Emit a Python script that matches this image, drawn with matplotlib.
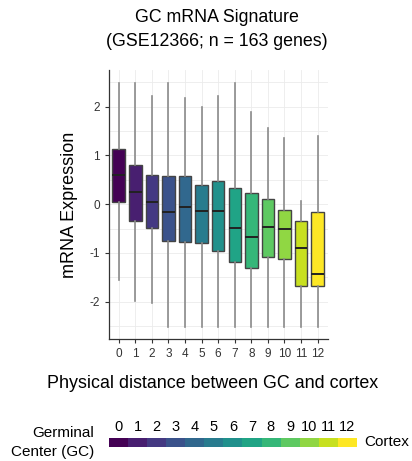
import numpy as np
import matplotlib.pyplot as plt
from matplotlib import cm
from matplotlib.colors import ListedColormap

plt.rcParams['font.family'] = ['Liberation Sans', 'DejaVu Sans']
plt.rcParams['axes.unicode_minus'] = False

# distance groups 0..12
groups = list(range(13))
medians = [0.60, 0.25, 0.04, -0.16, -0.06, -0.13, -0.14, -0.49, -0.68, -0.47, -0.51, -0.89, -1.44]
q1 = [0.05, -0.34, -0.48, -0.75, -0.77, -0.80, -0.95, -1.18, -1.31, -1.09, -1.12, -1.68, -1.68]
q3 = [1.13, 0.81, 0.60, 0.57, 0.57, 0.40, 0.47, 0.33, 0.23, 0.10, -0.11, -0.34, -0.16]
wlo = [-1.55, -1.98, -2.02, -2.51, -2.51, -2.51, -2.51, -2.51, -2.51, -2.51, -2.51, -2.51, -2.51]
whi = [2.49, 2.49, 2.21, 2.49, 2.17, 1.99, 2.22, 2.49, 1.89, 1.56, 1.35, 0.07, 1.39]

colors = [cm.viridis(i / 12) for i in groups]

fig = plt.figure(figsize=(4.12, 4.61), dpi=100)
ax = fig.add_axes([0.264, 0.265, 0.531, 0.583])

stats = []
for i in groups:
    stats.append(dict(med=medians[i], q1=q1[i], q3=q3[i], whislo=wlo[i], whishi=whi[i], fliers=[]))

bp = ax.bxp(stats, positions=groups, widths=0.75, patch_artist=True, showcaps=False,
            boxprops=dict(edgecolor='#444444', linewidth=1.0),
            medianprops=dict(color='#222222', linewidth=1.4),
            whiskerprops=dict(color='#8a8a8a', linewidth=1.2))
for patch, c in zip(bp['boxes'], colors):
    patch.set_facecolor(c)

ax.set_xlim(-0.6, 12.6)
ax.set_ylim(-2.76, 2.75)
ax.set_yticks([-2, -1, 0, 1, 2])
ax.set_yticks(np.arange(-2.5, 2.6, 1.0), minor=True)
ax.set_xticks(groups)
ax.set_xticklabels([str(g) for g in groups])
ax.grid(True, which='both', color='#ebebeb', linewidth=0.6)
ax.set_axisbelow(True)
for s in ['top', 'right']:
    ax.spines[s].set_visible(False)
for s in ['left', 'bottom']:
    ax.spines[s].set_color('#333333')
    ax.spines[s].set_linewidth(0.9)
ax.tick_params(axis='both', which='major', labelsize=8.5, colors='#333333', length=3, width=0.8)
ax.tick_params(axis='y', which='minor', length=0)
ax.set_ylabel('mRNA Expression', fontsize=13, labelpad=8)

fig.text(0.527, 0.962, 'GC mRNA Signature', ha='center', va='center', fontsize=12.8)
fig.text(0.527, 0.910, '(GSE12366; n = 163 genes)', ha='center', va='center', fontsize=12.8)
fig.text(0.517, 0.169, 'Physical distance between GC and cortex', ha='center', va='center', fontsize=12.9)

# color key
cax = fig.add_axes([0.2646, 0.030, 0.601, 0.020])
cax.imshow(np.array([groups]), cmap=ListedColormap(colors), aspect='auto',
           extent=(-0.5, 12.5, 0, 1))
cax.set_xticks(groups)
cax.set_xticklabels([str(g) for g in groups], fontsize=10.5)
cax.xaxis.tick_top()
cax.tick_params(axis='x', length=0, pad=3)
cax.set_yticks([])
for s in cax.spines.values():
    s.set_visible(False)

fig.text(0.228, 0.061, 'Germinal', ha='right', va='center', fontsize=11)
fig.text(0.228, 0.020, 'Center (GC)', ha='right', va='center', fontsize=11)
fig.text(0.885, 0.041, 'Cortex', ha='left', va='center', fontsize=11)

fig.savefig('out.png', dpi=100)
